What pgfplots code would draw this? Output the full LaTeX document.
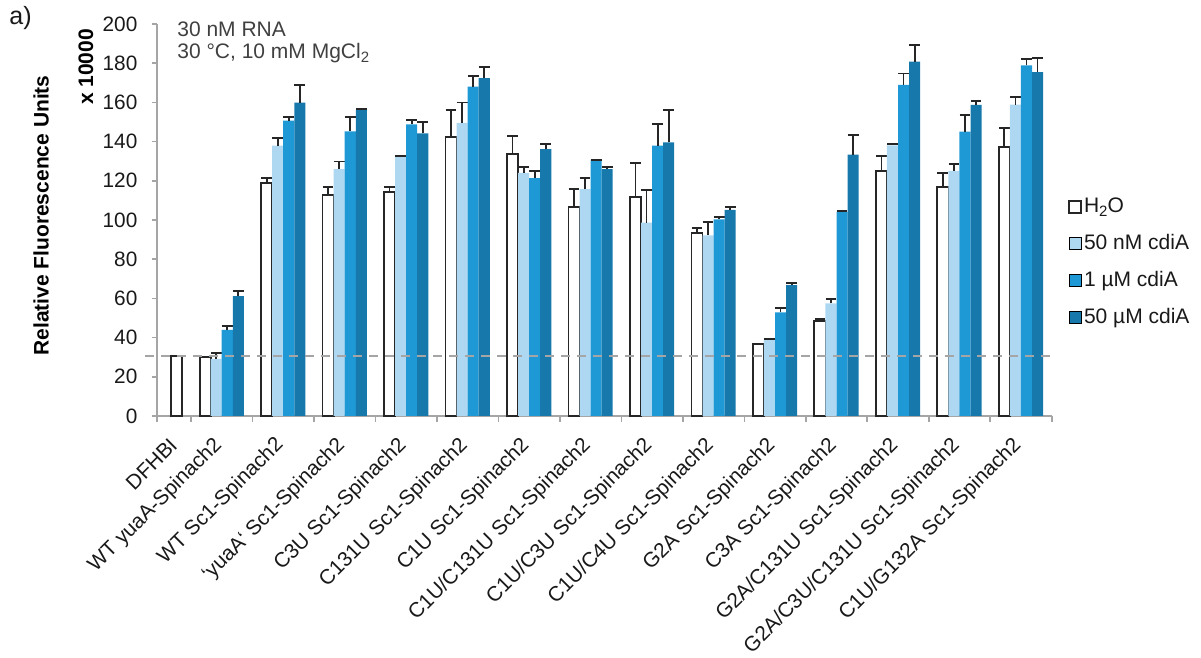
\documentclass[border=0pt]{standalone}
\usepackage{fontspec}
\setmainfont{Liberation Sans}
\usepackage{pgfplots}
\usepackage{pgfplotstable}
\pgfplotsset{compat=1.18}

\definecolor{cLight}{RGB}{174,216,242}
\definecolor{cMid}{RGB}{31,153,214}
\definecolor{cDark}{RGB}{23,120,172}
\definecolor{axisgrey}{RGB}{165,165,165}
\definecolor{txt}{RGB}{25,25,25}
\definecolor{note}{RGB}{64,64,64}

% x = construct index; value and upper error for each condition
\pgfplotstableread{
x  h2o   h2oe  lt    lte   md    mde   dk    dke
1  29.9  0.0   29.1  3.2   43.9  2.0   61.2  2.7
2  119.0 2.3   137.9 4.1   150.7 1.9   159.9 9.0
3  112.6 4.4   126.0 3.8   145.2 7.5   156.1 0.7
4  114.3 2.7   132.5 0.3   148.8 2.2   144.2 5.6
5  142.5 13.8  149.6 10.3  168.0 5.6   172.4 5.8
6  133.5 9.2   124.1 2.9   121.4 3.8   136.1 2.8
7  106.8 9.2   115.8 5.6   130.4 0.4   126.0 1.2
8  111.6 17.3  98.6  16.5  137.9 11.1  139.6 16.7
9  93.2  2.7   92.2  6.6   100.3 1.2   105.1 1.7
10 36.7  0.3   39.1  0.3   52.9  2.0   66.8  0.9
11 48.6  0.9   57.5  2.0   104.2 0.2   133.3 10.1
12 125.2 7.5   138.1 0.7   168.9 5.8   180.8 8.5
13 117.0 7.1   125.0 3.7   145.1 8.5   158.7 2.2
14 137.1 10.0  158.8 3.8   178.9 3.1   175.4 7.4
}\data

\pgfplotsset{
  sqlegend/.style={legend image code/.code={\draw[##1] (0pt,-3pt) rectangle (6pt,3pt);}},
  errstyle/.style={
    error bars/.cd, y dir=plus, y explicit,
    error bar style={line width=0.9pt, draw=black!85},
    error mark options={rotate=90, line width=0.9pt, draw=black!85, mark size=2.7pt},
  },
}

\begin{document}
\begin{tikzpicture}
\useasboundingbox (0,0) rectangle (600.5pt,329pt);
\begin{axis}[
  at={(78.5pt,121pt)}, anchor=south west,
  scale only axis, width=447.35pt, height=196pt,
  xmin=-0.053, xmax=14.5, ymin=0, ymax=200,
  clip=false,
  axis x line*=bottom, axis y line*=left,
  axis line style={draw=axisgrey, line width=0.8pt},
  tick align=outside,
  tick style={draw=axisgrey, line width=0.8pt},
  major tick length=2.5pt, minor tick length=3pt,
  ytick={0,20,40,60,80,100,120,140,160,180,200},
  yticklabel={\pgfmathprintnumber{\tick}\hspace*{3.8pt}},
  xtick={0.264,1,2,3,4,5,6,7,8,9,10,11,12,13,14},
  xticklabels={DFHBI, WT yuaA-Spinach2, WT Sc1-Spinach2, ‘yuaA‘ Sc1-Spinach2,
    C3U Sc1-Spinach2, C131U Sc1-Spinach2, C1U Sc1-Spinach2, C1U/C131U Sc1-Spinach2,
    C1U/C3U Sc1-Spinach2, C1U/C4U Sc1-Spinach2, G2A Sc1-Spinach2, C3A Sc1-Spinach2,
    G2A/C131U Sc1-Spinach2, G2A/C3U/C131U Sc1-Spinach2, C1U/G132A Sc1-Spinach2},
  major x tick style={draw=none},
  minor xtick={-0.053,0.5,1.5,2.5,3.5,4.5,5.5,6.5,7.5,8.5,9.5,10.5,11.5,12.5,13.5,14.5},
  /pgf/number format/assume math mode=true,
  ticklabel style={font=\fontsize{10.4}{12}\selectfont, text=txt},
  xticklabel style={xshift=1pt, yshift=-8pt, rotate=45, anchor=east},
  legend style={at={(1.018,0.564)}, anchor=north west, draw=none, fill=none,
    font=\fontsize{10.5}{12}\selectfont, text=txt, row sep=7pt, inner sep=0pt,
    nodes={inner sep=1pt, text height=7.5pt, text depth=2pt}},
  legend cell align=left,
]
% DFHBI alone
\addplot[forget plot, ybar, bar width=0.18, bar shift=0pt, fill=white, draw=black!85, line width=0.9pt]
  coordinates {(0.264,30.8)};
\addplot[ybar, bar width=0.18, bar shift=0pt, fill=white, draw=black!85, line width=0.9pt, sqlegend,
  errstyle] table[x expr=\thisrow{x}-0.27, y=h2o, y error=h2oe] {\data};
\addlegendentry{H\raisebox{-0.4ex}{\fontsize{7.5}{8}\selectfont 2}O}
\addplot[ybar, bar width=0.18, bar shift=0pt, fill=cLight, draw=none, sqlegend,
  errstyle] table[x expr=\thisrow{x}-0.09, y=lt, y error=lte] {\data};
\addlegendentry{50 nM cdiA}
\addplot[ybar, bar width=0.18, bar shift=0pt, fill=cMid, draw=none, sqlegend,
  errstyle] table[x expr=\thisrow{x}+0.09, y=md, y error=mde] {\data};
\addlegendentry{1 µM cdiA}
\addplot[ybar, bar width=0.18, bar shift=0pt, fill=cDark, draw=none, sqlegend,
  errstyle] table[x expr=\thisrow{x}+0.27, y=dk, y error=dke] {\data};
\addlegendentry{50 µM cdiA}
% background level of DFHBI alone
\addplot[forget plot, draw=axisgrey, line width=1pt, dash pattern=on 4.5pt off 3.5pt]
  coordinates {(-0.25,30.8) (14.5,30.8)};
\end{axis}
\node[anchor=north west, inner sep=0pt, font=\fontsize{12.5}{14}\selectfont, text=txt] at (4.5pt,326pt) {a)};
\node[anchor=north west, inner sep=0pt, align=left, font=\fontsize{10.5}{11.2}\selectfont, text=note]
  at (88.5pt,318.5pt) {30 nM RNA\\30 °C, 10 mM MgCl\raisebox{-0.4ex}{\fontsize{7.5}{8}\selectfont 2}};
\node[rotate=90, inner sep=0pt, font=\bfseries\fontsize{10.5}{12}\selectfont, text=black] at (20.5pt,221.25pt) {Relative Fluorescence Units};
\node[rotate=90, inner sep=0pt, font=\bfseries\fontsize{10.5}{12}\selectfont, text=black] at (43pt,295.5pt) {x 10000};
\end{tikzpicture}
\end{document}
